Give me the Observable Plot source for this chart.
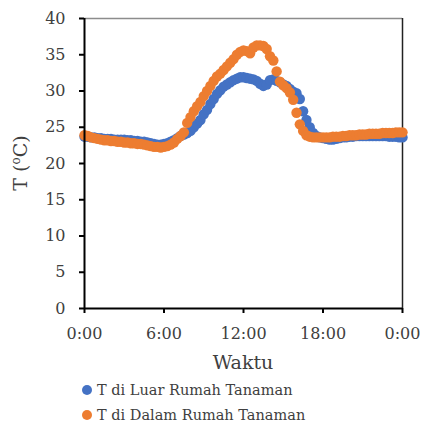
<!DOCTYPE html>
<html>
<head>
<meta charset="utf-8">
<script src="https://cdn.jsdelivr.net/npm/d3@7"></script>
<script src="https://cdn.jsdelivr.net/npm/@observablehq/plot@0.6"></script>
<style>
  html, body { margin: 0; padding: 0; background: #fff; }
  #wrap { position: relative; width: 422px; height: 423px; font-family: "DejaVu Serif", serif; color: #404040; }
  .row { position: absolute; left: 82px; height: 20px; display: flex; align-items: center; font-size: 14.5px; white-space: nowrap; }
  .sw { width: 10px; height: 10px; border-radius: 50%; margin-right: 5px; }
</style>
</head>
<body>
<div id="wrap"></div>
<script>
// Hourly clock positions of the readings (one reading every 15 minutes, 0:00 to 24:00)
const hours = d3.range(0, 24.001, 0.25);

// Temperature outside the greenhouse (°C)
const tLuar = [
  23.7, 23.7, 23.6, 23.6, 23.5, 23.5, 23.4, 23.4, 23.4, 23.3, 23.3, 23.3,
  23.3, 23.2, 23.2, 23.1, 23.1, 23.0, 23.0, 22.9, 22.8, 22.7, 22.6, 22.6,
  22.7, 22.8, 23.0, 23.2, 23.5, 23.8, 24.0, 24.2, 24.5, 25.0, 25.5, 26.0,
  26.8, 27.4, 28.2, 28.9, 29.6, 30.1, 30.6, 30.9, 31.2, 31.5, 31.7, 31.9,
  31.9, 31.8, 31.7, 31.6, 31.4, 31.0, 30.7, 30.9, 31.5, 31.6, 31.4, 31.2,
  30.9, 30.7, 30.3, 29.9, 29.7, 28.9, 27.2, 26.0, 25.0, 24.2, 23.8, 23.6,
  23.5, 23.4, 23.3, 23.3, 23.4, 23.5, 23.6, 23.6, 23.7, 23.7, 23.8, 23.8,
  23.8, 23.8, 23.8, 23.8, 23.8, 23.8, 23.8, 23.8, 23.7, 23.7, 23.7, 23.6,
  23.6
];

// Temperature inside the greenhouse (°C)
const tDalam = [
  23.9, 23.8, 23.6, 23.5, 23.4, 23.3, 23.2, 23.2, 23.1, 23.1, 23.0, 23.0,
  22.9, 22.9, 22.8, 22.8, 22.7, 22.7, 22.6, 22.5, 22.4, 22.3, 22.3, 22.2,
  22.3, 22.4, 22.6, 22.9, 23.4, 23.8, 24.3, 25.6, 26.4, 27.2, 27.9, 28.5,
  29.3, 30.0, 30.7, 31.4, 32.0, 32.4, 32.9, 33.4, 33.9, 34.4, 35.0, 35.4,
  35.6, 35.5, 35.2, 36.0, 36.3, 36.3, 36.2, 35.8, 34.8, 34.2, 32.7, 31.3,
  30.8, 30.4, 29.8, 28.8, 27.0, 25.4, 24.5, 23.9, 23.7, 23.6, 23.6, 23.6,
  23.6, 23.6, 23.6, 23.7, 23.7, 23.7, 23.8, 23.8, 23.9, 23.9, 23.9, 24.0,
  24.0, 24.0, 24.1, 24.1, 24.1, 24.1, 24.2, 24.2, 24.2, 24.2, 24.3, 24.3,
  24.3
];

const seriesNames = ["T di Luar Rumah Tanaman", "T di Dalam Rumah Tanaman"];
const seriesColors = ["#4472C4", "#ED7D31"];
const xTicks = [0, 6, 12, 18, 24];
const xTickLabels = ["0:00", "6:00", "12:00", "18:00", "0:00"];
const yTicks = [0, 5, 10, 15, 20, 25, 30, 35, 40];

const luar = hours.map((h, i) => ({h, T: tLuar[i]}));
const dalam = hours.map((h, i) => ({h, T: tDalam[i]}));

const chart = Plot.plot({
  width: 422,
  height: 378,
  marginLeft: 84,
  marginRight: 20,
  marginTop: 18,
  marginBottom: 70,
  style: {fontFamily: "DejaVu Serif", fontSize: "16px", color: "#404040", background: "#fff"},
  x: {domain: [0, 24]},
  y: {domain: [0, 40]},
  marks: [
    Plot.ruleY([40], {stroke: "#8c8c8c", strokeWidth: 1.5}),
    Plot.ruleX([24], {stroke: "#222", strokeWidth: 1.5}),
    Plot.dot(luar, {x: "h", y: "T", r: 5.2, fill: seriesColors[0]}),
    Plot.dot(dalam, {x: "h", y: "T", r: 5.2, fill: seriesColors[1]}),
    Plot.ruleX([0], {stroke: "#000", strokeWidth: 2}),
    Plot.ruleY([0], {stroke: "#000", strokeWidth: 2}),
    Plot.axisX({ticks: xTicks, tickFormat: (d, i) => xTickLabels[i], tickSize: 5, tickPadding: 14,
      stroke: "#000", strokeWidth: 2, fill: "#404040", label: null}),
    Plot.axisY({ticks: yTicks, tickSize: 5, tickPadding: 14,
      stroke: "#000", strokeWidth: 2, fill: "#404040", label: null})
  ]
});

const svg = d3.select(chart);
svg.append("text")
  .attr("x", 243).attr("y", 369)
  .attr("text-anchor", "middle")
  .attr("font-size", 19).attr("fill", "#404040")
  .text("Waktu");

const yl = svg.append("text")
  .attr("transform", "translate(27,163) rotate(-90)")
  .attr("text-anchor", "middle")
  .attr("font-size", 19).attr("fill", "#404040");
yl.append("tspan").text("T (");
yl.append("tspan").attr("font-size", 12).attr("dy", -7).text("o");
yl.append("tspan").attr("dy", 7).text("C)");

const wrap = document.getElementById("wrap");
wrap.appendChild(chart);
chart.style.position = "absolute";
chart.style.left = "0px";
chart.style.top = "0px";

seriesNames.forEach((name, i) => {
  const row = document.createElement("div");
  row.className = "row";
  row.style.top = (380 + i * 25) + "px";
  const sw = document.createElement("span");
  sw.className = "sw";
  sw.style.background = seriesColors[i];
  row.appendChild(sw);
  row.appendChild(document.createTextNode(name));
  wrap.appendChild(row);
});
</script>
</body>
</html>
